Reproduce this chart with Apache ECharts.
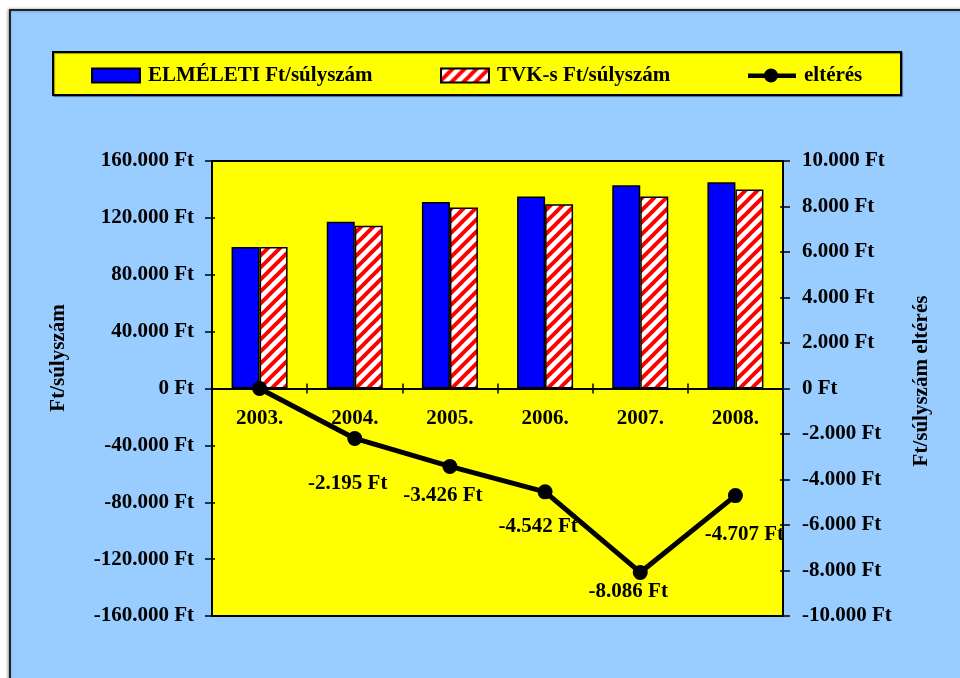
<!DOCTYPE html>
<html>
<head>
<meta charset="utf-8">
<title>Ft/súlyszám</title>
<script src="https://cdn.jsdelivr.net/npm/echarts@6/dist/echarts.min.js"></script>
<style>
  html, body { margin: 0; padding: 0; background: #ffffff; }
  #chart { width: 960px; height: 678px; }
</style>
</head>
<body>
<div id="chart"></div>
<script>
// Years on the category axis
const years = ['2003.', '2004.', '2005.', '2006.', '2007.', '2008.'];
// Theoretical Ft per weight number (left axis)
const elmeleti = [99500, 117200, 131200, 135000, 142900, 145000];
// TVK Ft per weight number (left axis)
const tvk = [99500, 114400, 127300, 129600, 135000, 139900];
// Difference between the two (right axis)
const elteres = [0, -2195, -3426, -4542, -8086, -4707];

const leftTicks = { min: -160000, max: 160000, interval: 40000 };
const rightTicks = { min: -10000, max: 10000, interval: 2000 };

const FONT = '"Liberation Serif", "Times New Roman", serif';
const FS = 21;

function ft(v) {
  const s = Math.abs(Math.round(v)).toString().replace(/\B(?=(\d{3})+(?!\d))/g, '.');
  return (v < 0 ? '-' : '') + s + ' Ft';
}

// Red diagonal hatch on white for the TVK bars
const tile = document.createElement('canvas');
tile.width = 12; tile.height = 12;
const tc = tile.getContext('2d');
tc.fillStyle = '#ffffff';
tc.fillRect(0, 0, 12, 12);
tc.strokeStyle = '#ff0000';
tc.lineWidth = 4;
[[-6, 6, 6, -6], [0, 12, 12, 0], [6, 18, 18, 6]].forEach(function (l) {
  tc.beginPath(); tc.moveTo(l[0], l[1]); tc.lineTo(l[2], l[3]); tc.stroke();
});
const hatch = { image: tile, repeat: 'repeat' };

// Where each difference label sits relative to its point
const labelShift = [[0, 0], [-7, 45], [-7, 29], [-7, 35], [-12, 19], [9, 39]];

const textStyle = { fontFamily: FONT, fontWeight: 'bold', fontSize: FS, color: '#000' };

// Plot box
const gridBox = { left: 212, right: 177, top: 161, bottom: 62 };
const plotHeight = 678 - gridBox.top - gridBox.bottom;
// The category axis runs along the zero line, half way down the plot
const zeroLift = -plotHeight * (0 - leftTicks.min) / (leftTicks.max - leftTicks.min);

// Legend key for the line: thick stroke with a dot in the middle
const lineKey = 'path://M0,5 L48,5 L48,9.5 L0,9.5 Z M16,7 A7,7 0 1 1 30,7 A7,7 0 1 1 16,7 Z';

const chart = echarts.init(document.getElementById('chart'), null, { renderer: 'canvas' });

function legendAt(x, name, icon) {
  return {
    left: x, top: 65,
    itemWidth: 48, itemHeight: 14,
    padding: 0,
    icon: icon,
    data: [name],
    selectedMode: false,
    textStyle: Object.assign({ padding: [0, 0, 0, 3] }, textStyle)
  };
}

const option = {
  animation: false,
  backgroundColor: '#ffffff',
  graphic: [
    {
      type: 'rect', z: -10, silent: true,
      shape: { x: 10, y: 10, width: 1000, height: 1000 },
      style: { fill: '#99ccff', stroke: '#222222', lineWidth: 2, shadowColor: 'rgba(0,0,0,0.35)', shadowBlur: 3, shadowOffsetX: -1 }
    },
    {
      type: 'rect', z: -9, silent: true,
      shape: { x: 53, y: 52, width: 848, height: 43 },
      style: { fill: '#ffff00', stroke: '#000000', lineWidth: 2, shadowColor: 'rgba(0,0,0,0.4)', shadowOffsetX: 1, shadowOffsetY: 1, shadowBlur: 1 }
    },
    {
      type: 'text', x: 59, y: 358, rotation: Math.PI / 2, silent: true,
      style: { text: 'Ft/súlyszám', font: 'bold ' + FS + 'px ' + FONT, fill: '#000', align: 'center', verticalAlign: 'middle' }
    },
    {
      type: 'text', x: 922, y: 381, rotation: Math.PI / 2, silent: true,
      style: { text: 'Ft/súlyszám eltérés', font: 'bold ' + FS + 'px ' + FONT, fill: '#000', align: 'center', verticalAlign: 'middle' }
    }
  ],
  legend: [
    legendAt(91, 'ELMÉLETI Ft/súlyszám', 'rect'),
    legendAt(440, 'TVK-s Ft/súlyszám', 'rect'),
    legendAt(748, 'eltérés', lineKey)
  ],
  grid: Object.assign({
    show: true, backgroundColor: '#ffff00', borderColor: '#000', borderWidth: 2,
    containLabel: false
  }, gridBox),
  xAxis: [
    {
      type: 'category', data: years, position: 'bottom', offset: zeroLift,
      axisLine: { onZero: false, lineStyle: { color: '#000', width: 2 } },
      axisTick: { show: true, length: 5, alignWithLabel: false, lineStyle: { color: '#000', width: 1.5 } },
      axisLabel: Object.assign({ margin: 20, interval: 0 }, textStyle),
      splitLine: { show: false }
    },
    {
      type: 'category', data: years, position: 'bottom', offset: zeroLift,
      axisLine: { show: false, onZero: false },
      axisTick: { show: true, inside: true, length: 5, lineStyle: { color: '#000', width: 1.5 } },
      axisLabel: { show: false },
      splitLine: { show: false }
    }
  ],
  yAxis: [
    {
      type: 'value', position: 'left',
      min: leftTicks.min, max: leftTicks.max, interval: leftTicks.interval,
      axisLine: { show: true, lineStyle: { color: '#000', width: 2 } },
      axisTick: { show: true, length: 7, lineStyle: { color: '#000', width: 1.5 } },
      axisLabel: Object.assign({ margin: 18, formatter: ft }, textStyle),
      splitLine: { show: false }
    },
    {
      type: 'value', position: 'right',
      min: rightTicks.min, max: rightTicks.max, interval: rightTicks.interval,
      axisLine: { show: true, lineStyle: { color: '#000', width: 2 } },
      axisTick: { show: true, length: 7, lineStyle: { color: '#000', width: 1.5 } },
      axisLabel: Object.assign({ margin: 19, formatter: ft }, textStyle),
      splitLine: { show: false }
    },
    {
      type: 'value', position: 'left',
      min: leftTicks.min, max: leftTicks.max, interval: leftTicks.interval,
      axisLine: { show: false },
      axisTick: { show: true, inside: true, length: 3, lineStyle: { color: '#000', width: 1.5 } },
      axisLabel: { show: false },
      splitLine: { show: false }
    },
    {
      type: 'value', position: 'right',
      min: rightTicks.min, max: rightTicks.max, interval: rightTicks.interval,
      axisLine: { show: false },
      axisTick: { show: true, inside: true, length: 3, lineStyle: { color: '#000', width: 1.5 } },
      axisLabel: { show: false },
      splitLine: { show: false }
    }
  ],
  series: [
    {
      name: 'ELMÉLETI Ft/súlyszám', type: 'bar', xAxisIndex: 0, yAxisIndex: 0,
      data: elmeleti, barWidth: 28, barGap: '0%',
      itemStyle: { color: '#0000ff', borderColor: '#000', borderWidth: 1.5 }
    },
    {
      name: 'TVK-s Ft/súlyszám', type: 'bar', xAxisIndex: 0, yAxisIndex: 0,
      data: tvk, barWidth: 28, barGap: '0%',
      itemStyle: { color: hatch, borderColor: '#000', borderWidth: 1.5 }
    },
    {
      name: 'eltérés', type: 'line', xAxisIndex: 0, yAxisIndex: 1, z: 5,
      data: elteres.map(function (v, i) {
        return {
          value: v,
          label: {
            show: i > 0,
            position: 'inside',
            offset: labelShift[i]
          }
        };
      }),
      symbol: 'circle', symbolSize: 15,
      lineStyle: { color: '#000', width: 5 },
      itemStyle: { color: '#000' },
      label: Object.assign({ formatter: function (p) { return ft(p.value); } }, textStyle)
    }
  ]
};

chart.setOption(option);
</script>
</body>
</html>
